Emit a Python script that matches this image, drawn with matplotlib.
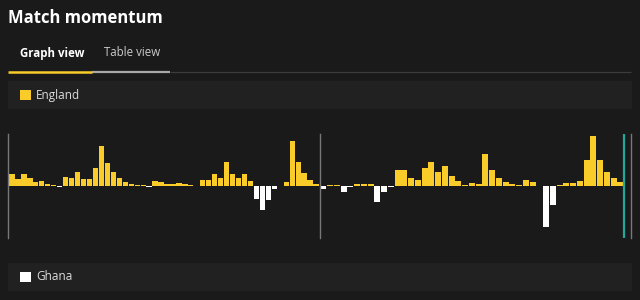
import matplotlib.pyplot as plt
from matplotlib.patches import Rectangle

# momentum per minute: positive = England, negative = Ghana
first_half = [12.3, 7, 12, 7.7, 3.7, 5, 1.7, 0.7, -0.7, 9.3, 7.7, 13.7, 7, 7,
              17.7, 40, 23, 13.7, 8.3, 4, 2.3, 1, 1, -1, 5, 4.3, 2, 1.7, 3, 2,
              1, 0, 6.3, 5.7, 11.7, 7.7, 24, 11.7, 7.7, 11.7, 5, -12.5, -24,
              -14, -2.5, 0, 3.7, 45, 24.3, 12.7, 5.7, 2.3]
second_half = [-2.7, 0.7, 1, -5.7, -0.7, 1.7, 2.3, 1.7, -16.3, -6.3, -0.7,
               16.3, 15.7, 8.3, 6.3, 17.7, 23.7, 13.7, 20, 9.7, 5, 0.7, 3, 2,
               32.3, 16.3, 7.7, 4.3, 1.7, 0.7, 5.7, 3.7, 0.5, -40.7, -18.7, 1,
               3, 3, 5, 25.7, 50, 26.3, 13.7, 8.3, 4.3]
teams = ["England", "Ghana"]
team_colors = ["#f9cc2a", "#ffffff"]

bg = "#1a1a1a"
panel = "#212121"
line_grey = "#777777"

W, H = 640, 300
fig = plt.figure(figsize=(6.4, 3), dpi=100, facecolor=bg)


def px_axes(left, top, right, bottom):
    # axes placed by pixel box (origin top-left)
    return fig.add_axes([left / W, 1 - bottom / H, (right - left) / W, (bottom - top) / H])


# overlay for header, tabs and legend panels
deco = px_axes(0, 0, W, H)
deco.set_xlim(0, W)
deco.set_ylim(H, 0)
deco.axis("off")
deco.set_facecolor(bg)

deco.text(8, 18, "Match momentum", color="white", fontsize=12, fontweight="bold",
          family="Open Sans", va="center", ha="left")
deco.text(20, 53, "Graph view", color="white", fontsize=8.3, fontweight="bold",
          family="Open Sans", va="center", ha="left")
deco.text(104, 53, "Table view", color="#cccccc", fontsize=8.3,
          family="Open Sans", va="center", ha="left")
deco.plot([170, 631], [72, 72], color="#3c3c3c", lw=0.9, solid_capstyle="butt")
deco.plot([92, 170], [71.5, 71.5], color="#a8a8a8", lw=1.6, solid_capstyle="butt")
deco.plot([8, 92], [71.5, 71.5], color=team_colors[0], lw=1.8, solid_capstyle="butt")

for (top, bottom), name, col in zip([(81, 109), (263, 291)], teams, team_colors):
    deco.add_patch(Rectangle((8, top), 624, bottom - top, color=panel, lw=0))
    mid = (top + bottom) / 2
    deco.add_patch(Rectangle((20, mid - 5.3), 10.5, 10.5, color=col, lw=0))
    deco.text(36, mid, name, color="#dddddd", fontsize=8.5, family="Open Sans",
              va="center", ha="left")


def draw_half(ax, values):
    x = range(len(values))
    colors = [team_colors[0] if v >= 0 else team_colors[1] for v in values]
    ax.bar(x, values, width=0.88, color=colors, linewidth=0)
    ax.set_ylim(-52, 52)
    ax.set_facecolor("none")
    ax.set_xticks([])
    ax.set_yticks([])
    for s in ["top", "bottom", "right", "left"]:
        ax.spines[s].set_visible(False)


ax1 = px_axes(8, 134, 319.5, 238)
draw_half(ax1, first_half)
ax1.set_xlim(-0.67, len(first_half) - 0.42)
ax1.spines["left"].set_visible(True)
ax1.spines["left"].set_color(line_grey)
ax1.spines["left"].set_linewidth(1.0)

ax2 = px_axes(319.5, 134, 630.5, 238)
draw_half(ax2, second_half)
ax2.set_xlim(-0.57, len(second_half) + 0.5)
for s in ["left", "right"]:
    ax2.spines[s].set_visible(True)
    ax2.spines[s].set_color(line_grey)
    ax2.spines[s].set_linewidth(1.0)
ax2.axvline(len(second_half) - 0.45, color="#1fa89b", lw=1.6)

fig.savefig("out.png", dpi=100, facecolor=bg)
